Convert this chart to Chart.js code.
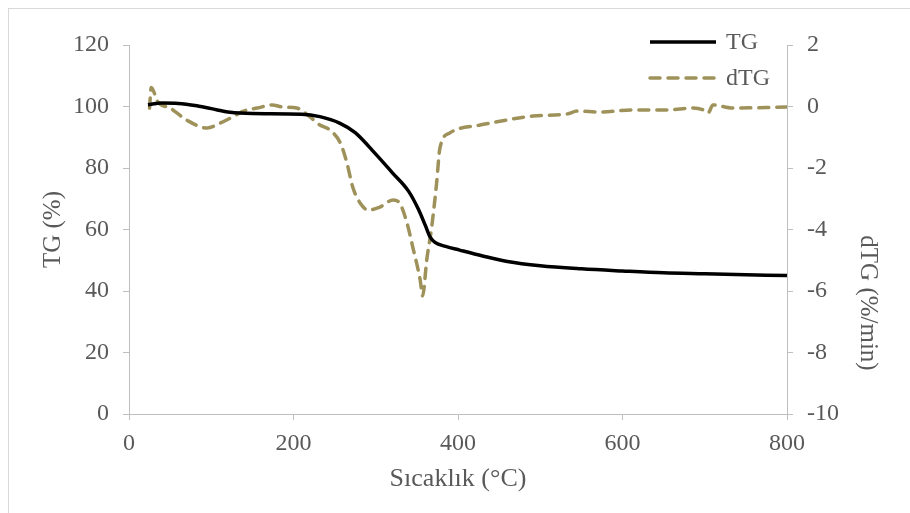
<!DOCTYPE html>
<html>
<head>
<meta charset="utf-8">
<script src="https://cdn.jsdelivr.net/npm/chart.js@4/dist/chart.umd.min.js"></script>
<style>
  html, body { margin: 0; padding: 0; background: #ffffff; }
  #wrap { width: 910px; height: 513px; }
</style>
</head>
<body>
<div id="wrap"><canvas id="c" width="910" height="513"></canvas></div>
<script>
// Thermogravimetric curve: temperature (°C) and remaining mass (%)
const tgTemp = [23, 40, 60, 85, 100, 123, 150, 210, 232, 256, 275, 300, 320, 340, 352, 360, 366, 372, 385, 402, 430, 460, 500, 550, 600, 650, 700, 750, 800];
const tgValues = [100.6, 101.1, 101.0, 100.1, 99.3, 98.1, 97.7, 97.5, 96.7, 94.6, 91.5, 84.5, 78.5, 72.4, 66.5, 61.5, 57.6, 55.8, 54.5, 53.3, 51.4, 49.6, 48.2, 47.2, 46.5, 45.9, 45.6, 45.3, 45.0];

// Derivative curve: temperature (°C) and mass loss rate (%/min)
const dtgTemp = [25, 27, 35, 50, 70, 95, 111, 126, 139, 156, 174, 187, 204, 220, 232, 244, 257, 265, 272, 281, 291, 305, 321, 329, 338, 345, 354, 357, 362, 368, 374, 378, 390, 427, 439, 491, 533, 545, 573, 613, 654, 686, 698, 704, 710, 734, 800];
const dtgValues = [-0.05, 0.62, 0.15, -0.05, -0.44, -0.70, -0.54, -0.34, -0.15, -0.05, 0.05, -0.02, -0.05, -0.34, -0.60, -0.76, -1.19, -1.84, -2.62, -3.14, -3.37, -3.27, -3.04, -3.14, -3.79, -4.57, -5.64, -6.16, -4.99, -3.92, -2.49, -1.35, -0.86, -0.60, -0.54, -0.31, -0.24, -0.15, -0.18, -0.11, -0.11, -0.05, -0.11, -0.21, 0.05, -0.05, -0.02];

// Axis tick settings
const xTickStep = 200;
const tgTickStep = 20;
const dtgTickStep = 2;

const seriesNames = ['TG', 'dTG'];
const axisTitles = { x: 'Sıcaklık (°C)', y: 'TG (%)', y1: 'dTG (%/min)' };

const FONT = 'Liberation Serif';
const TEXT = '#595959';
const AXIS = '#bfbfbf';
const DTG_COLOR = '#9e925a';

const toPoints = (xs, ys) => xs.map((x, i) => ({ x: x, y: ys[i] }));

// Thin outer frame
const framePlugin = {
  id: 'frame',
  beforeDraw(chart) {
    const ctx = chart.ctx;
    ctx.save();
    ctx.fillStyle = '#ffffff';
    ctx.fillRect(0, 0, chart.width, chart.height);
    ctx.strokeStyle = '#d9d9d9';
    ctx.lineWidth = 1;
    ctx.strokeRect(8.5, 8.5, chart.width + 10, chart.height + 10);
    ctx.restore();
  }
};

// Right axis title, rotated and placed in the lower part of the axis
const rightTitlePlugin = {
  id: 'rightTitle',
  afterDraw(chart) {
    const opts = chart.options.scales.y1.title;
    const ctx = chart.ctx;
    ctx.save();
    ctx.translate(868, 303);
    ctx.rotate(Math.PI / 2);
    ctx.font = '25px "' + FONT + '"';
    ctx.fillStyle = TEXT;
    ctx.textAlign = 'center';
    ctx.textBaseline = 'middle';
    ctx.fillText(opts.text, 0, 0);
    ctx.restore();
  }
};

// Legend drawn inside the plot, top right
const legendPlugin = {
  id: 'innerLegend',
  afterDatasetsDraw(chart) {
    const ctx = chart.ctx;
    const rows = [42, 78];
    ctx.save();
    chart.data.datasets.forEach((ds, i) => {
      const y = rows[i];
      ctx.beginPath();
      ctx.strokeStyle = ds.borderColor;
      ctx.lineWidth = ds.borderWidth;
      ctx.lineCap = ds.borderCapStyle || 'butt';
      ctx.setLineDash(ds.borderDash || []);
      ctx.moveTo(650, y);
      ctx.lineTo(716, y);
      ctx.stroke();
      ctx.setLineDash([]);
      ctx.font = '24px "' + FONT + '"';
      ctx.fillStyle = TEXT;
      ctx.textAlign = 'left';
      ctx.textBaseline = 'middle';
      ctx.fillText(ds.label, 726, y + 1);
    });
    ctx.restore();
  }
};

const tickFont = { family: FONT, size: 24 };

new Chart(document.getElementById('c'), {
  type: 'line',
  data: {
    datasets: [
      {
        label: seriesNames[0],
        data: toPoints(tgTemp, tgValues),
        yAxisID: 'y',
        borderColor: '#000000',
        borderWidth: 3.5,
        pointRadius: 0,
        cubicInterpolationMode: 'monotone',
        fill: false
      },
      {
        label: seriesNames[1],
        data: toPoints(dtgTemp, dtgValues),
        yAxisID: 'y1',
        borderColor: DTG_COLOR,
        borderWidth: 3.5,
        borderDash: [10, 8],
        borderCapStyle: 'round',
        pointRadius: 0,
        cubicInterpolationMode: 'monotone',
        fill: false
      }
    ]
  },
  options: {
    responsive: false,
    animation: false,
    devicePixelRatio: 1,
    layout: { padding: { top: 45, left: 0, right: 0, bottom: 0 } },
    plugins: {
      legend: { display: false },
      tooltip: { enabled: false }
    },
    scales: {
      x: {
        type: 'linear',
        position: 'bottom',
        min: 0,
        max: 800,
        afterFit(scale) { scale.height = 99; },
        ticks: { stepSize: xTickStep, font: tickFont, color: TEXT, padding: 9, maxRotation: 0 },
        grid: { drawOnChartArea: false, drawTicks: true, tickLength: 6, color: AXIS, lineWidth: 1 },
        border: { display: true, color: AXIS, width: 1 },
        title: {
          display: true,
          text: axisTitles.x,
          color: TEXT,
          font: { family: FONT, size: 26 },
          padding: { top: 0, bottom: 18 }
        }
      },
      y: {
        type: 'linear',
        position: 'left',
        min: 0,
        max: 120,
        afterFit(scale) { scale.width = 129; },
        ticks: { stepSize: tgTickStep, font: tickFont, color: TEXT, padding: 14 },
        grid: { drawOnChartArea: false, drawTicks: true, tickLength: 6, color: AXIS, lineWidth: 1 },
        border: { display: true, color: AXIS, width: 1 },
        title: {
          display: true,
          text: axisTitles.y,
          color: TEXT,
          font: { family: FONT, size: 25 },
          padding: { top: 38, bottom: 0 }
        }
      },
      y1: {
        type: 'linear',
        position: 'right',
        min: -10,
        max: 2,
        afterFit(scale) { scale.width = 123; },
        ticks: { stepSize: dtgTickStep, font: tickFont, color: TEXT, padding: 14 },
        grid: { drawOnChartArea: false, drawTicks: true, tickLength: 6, color: AXIS, lineWidth: 1 },
        border: { display: true, color: AXIS, width: 1 },
        title: { display: false, text: axisTitles.y1 }
      }
    }
  },
  plugins: [framePlugin, rightTitlePlugin, legendPlugin]
});
</script>
</body>
</html>
